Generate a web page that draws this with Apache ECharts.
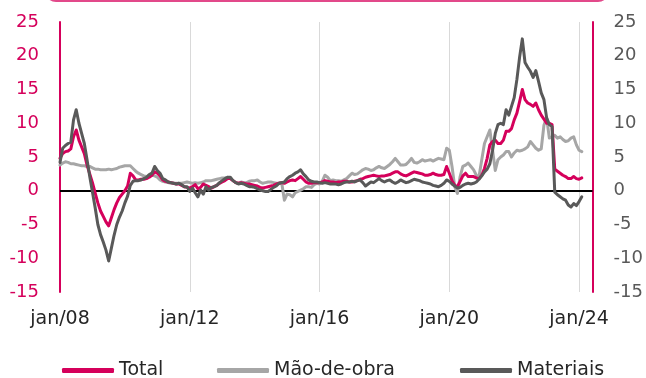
<!DOCTYPE html>
<html>
<head>
<meta charset="utf-8">
<script src="https://cdn.jsdelivr.net/npm/echarts@6/dist/echarts.min.js"></script>
<style>
  html, body { margin: 0; padding: 0; background: #ffffff; }
  #chart { width: 646px; height: 378px; }
</style>
</head>
<body>
<div id="chart"></div>
<script>
// Monthly axis: jan/08 through jun/24 (data runs to feb/24)
const startYear = 2008;
const monthCount = 198;
const monthNames = ['jan','fev','mar','abr','mai','jun','jul','ago','set','out','nov','dez'];
const categories = [];
for (let k = 0; k < monthCount; k++) {
  const y = startYear + Math.floor(k / 12);
  categories.push(monthNames[k % 12] + '/' + String(y % 100).padStart(2, '0'));
}

const yTicks = { min: -15, max: 25, step: 5 };

// % change over 12 months
const total = [
  4.8,5.5,5.8,5.9,6.2,8.0,9.0,7.5,6.5,5.5,
  3.8,2.5,1.2,-0.3,-1.8,-3.0,-3.8,-4.6,-5.2,-4.0,
  -2.8,-1.8,-1.0,-0.5,0.0,0.7,2.6,2.2,1.6,1.6,
  1.7,1.7,1.8,2.0,2.3,2.8,2.6,2.2,1.6,1.4,
  1.3,1.2,1.1,1.0,1.0,0.8,0.6,0.5,0.4,0.6,
  0.9,0.3,0.5,1.0,0.8,0.6,0.4,0.6,0.8,1.1,
  1.3,1.5,1.8,1.8,1.5,1.2,1.1,1.2,1.1,1.0,
  1.0,0.9,0.8,0.7,0.5,0.4,0.5,0.6,0.7,0.8,
  1.0,1.1,1.2,1.1,1.3,1.5,1.6,1.5,1.8,2.1,
  1.7,1.3,1.1,1.1,1.2,1.2,1.2,1.3,1.5,1.4,
  1.3,1.3,1.2,1.3,1.3,1.4,1.4,1.3,1.3,1.4,
  1.5,1.7,1.8,2.0,2.1,2.2,2.3,2.2,2.1,2.2,
  2.2,2.3,2.4,2.6,2.8,2.8,2.5,2.3,2.2,2.4,
  2.6,2.8,2.7,2.6,2.5,2.3,2.3,2.4,2.6,2.4,
  2.3,2.3,2.4,3.6,2.6,1.5,0.8,0.6,1.4,2.2,
  2.6,2.1,2.1,2.1,1.9,1.8,2.3,3.3,4.8,6.8,
  7.3,7.5,7.0,7.0,7.5,8.8,8.8,9.2,10.5,11.5,
  13.2,15.0,13.5,13.0,12.8,12.5,13.0,12.0,11.2,10.6,
  10.0,10.0,9.8,3.2,2.9,2.6,2.3,2.1,1.8,1.8,
  2.1,1.8,1.7,1.9
];

const maoDeObra = [
  3.8,4.1,4.3,4.2,4.0,4.0,3.9,3.8,3.7,3.7,
  3.6,3.6,3.4,3.2,3.2,3.1,3.1,3.1,3.2,3.1,
  3.2,3.3,3.5,3.6,3.7,3.7,3.7,3.3,2.9,2.6,
  2.4,2.2,2.1,2.2,2.3,2.2,2.0,1.6,1.4,1.3,
  1.2,1.1,1.1,1.1,1.1,1.1,1.2,1.3,1.2,1.1,
  1.2,1.1,1.2,1.3,1.5,1.5,1.5,1.6,1.7,1.8,
  1.9,1.9,2.0,1.8,1.5,1.2,1.1,1.3,1.2,1.2,
  1.4,1.5,1.5,1.6,1.3,1.1,1.2,1.3,1.3,1.2,
  1.1,1.1,1.2,-1.4,-0.5,-0.6,-0.9,-0.3,-0.1,0.1,
  0.3,0.6,0.6,0.5,0.9,1.1,1.0,1.4,2.3,2.0,
  1.5,1.6,1.5,1.5,1.4,1.6,1.8,2.2,2.6,2.4,
  2.5,2.8,3.1,3.3,3.2,3.0,3.1,3.4,3.6,3.4,
  3.3,3.6,3.9,4.3,4.8,4.3,3.8,3.8,3.9,4.3,
  4.8,4.2,4.1,4.3,4.6,4.4,4.5,4.6,4.4,4.6,
  4.8,4.7,4.6,6.3,6.0,3.6,0.6,-0.4,2.1,3.6,
  3.8,4.1,3.6,3.1,2.3,2.1,4.6,7.0,8.0,9.0,
  6.0,3.0,4.6,5.0,5.3,5.8,5.8,5.0,5.6,6.0,
  5.9,6.0,6.2,6.5,7.3,6.8,6.3,6.0,6.2,9.7,
  10.8,7.8,8.0,8.2,7.8,8.0,7.6,7.3,7.4,7.8,
  8.0,6.8,6.0,5.8
];

const materiais = [
  4.2,6.3,6.7,7.0,7.2,10.5,12.0,10.0,8.5,7.0,
  4.6,2.1,-0.2,-2.5,-5.0,-6.5,-7.6,-8.8,-10.4,-8.5,
  -6.6,-5.0,-3.9,-3.0,-1.8,-0.8,0.8,1.4,1.5,1.5,
  1.6,1.8,2.0,2.4,2.6,3.6,3.0,2.6,1.8,1.6,
  1.3,1.2,1.1,1.0,1.1,0.9,0.6,0.6,-0.1,0.4,
  -0.3,-0.9,0.1,-0.5,0.6,0.1,0.5,0.6,0.8,1.2,
  1.5,1.8,2.0,2.0,1.5,1.2,1.0,1.1,1.0,0.8,
  0.6,0.6,0.5,0.3,0.1,0.0,-0.1,-0.1,0.2,0.5,
  0.7,1.1,1.2,1.3,1.8,2.1,2.3,2.6,2.8,3.1,
  2.5,2.1,1.6,1.4,1.3,1.3,1.2,1.1,1.2,1.1,
  1.0,1.0,1.0,0.9,1.0,1.2,1.3,1.3,1.4,1.3,
  1.5,1.6,1.2,0.7,1.0,1.3,1.2,1.5,1.8,1.5,
  1.3,1.5,1.6,1.3,1.1,1.3,1.6,1.4,1.2,1.3,
  1.5,1.7,1.6,1.5,1.3,1.2,1.1,1.0,0.8,0.7,
  0.6,0.8,1.1,1.6,1.4,1.0,0.7,0.4,0.5,0.8,
  1.0,1.1,1.0,1.1,1.3,1.7,2.2,2.8,3.2,4.0,
  6.0,8.5,9.8,10.0,9.8,12.0,11.2,12.5,13.8,16.5,
  19.8,22.5,19.0,18.3,17.7,16.8,17.8,16.2,14.5,13.5,
  10.8,9.8,9.5,-0.2,-0.6,-0.9,-1.2,-1.4,-2.1,-2.4,
  -1.9,-2.2,-1.6,-0.9
];

const PINK = '#D5005B';
const LIGHT = '#A6A6A6';
const DARK = '#595959';
const FONT = 'DejaVu Sans';

const chart = echarts.init(document.getElementById('chart'), null, { renderer: 'canvas' });

function lineSeries(name, data, color, z) {
  return {
    name: name,
    type: 'line',
    data: data,
    showSymbol: false,
    symbol: 'none',
    z: z,
    lineStyle: { color: color, width: 3, join: 'round', cap: 'round' },
    itemStyle: { color: color },
    animation: false
  };
}

function legendAt(left, name) {
  return {
    left: left,
    top: 356,
    data: [name],
    icon: 'roundRect',
    itemWidth: 52,
    itemHeight: 5,
    itemGap: 0,
    textStyle: { fontFamily: FONT, fontSize: 19, color: '#262626' }
  };
}

const yCommon = {
  type: 'value',
  min: yTicks.min,
  max: yTicks.max,
  interval: yTicks.step,
  splitLine: { show: false },
  axisTick: { show: false },
  axisLine: { show: true, lineStyle: { color: PINK, width: 2 } }
};

const zeroSeries = lineSeries('Materiais', materiais, DARK, 4);

chart.setOption({
  backgroundColor: '#ffffff',
  animation: false,
  graphic: [{
    type: 'rect',
    shape: { x: 46, y: -30, width: 562, height: 31, r: 10 },
    style: { fill: 'none', stroke: '#E2498A', lineWidth: 2 },
    silent: true
  }],
  grid: { left: 60, right: 52, top: 22, bottom: 86 },
  legend: [
    legendAt(57, 'Total'),
    legendAt(212, 'Mão-de-obra'),
    legendAt(455, 'Materiais')
  ],
  xAxis: {
    type: 'category',
    data: categories,
    boundaryGap: false,
    axisLine: { show: false },
    axisTick: { show: false },
    axisLabel: {
      interval: function (index) { return index % 48 === 0; },
      fontFamily: FONT,
      fontSize: 19,
      color: '#262626',
      margin: 18
    },
    splitLine: {
      show: true,
      interval: function (index) { return index > 0 && index % 48 === 0; },
      lineStyle: { color: '#D9D9D9', width: 1 }
    }
  },
  yAxis: [
    Object.assign({}, yCommon, {
      position: 'left',
      axisLabel: { fontFamily: FONT, fontSize: 18, color: PINK, margin: 21 }
    }),
    Object.assign({}, yCommon, {
      position: 'right',
      axisLabel: { fontFamily: FONT, fontSize: 18, color: DARK, margin: 21 }
    })
  ],
  series: [
    lineSeries('Mão-de-obra', maoDeObra, LIGHT, 2),
    Object.assign(lineSeries('Total', total, PINK, 3), {
      markLine: {
        silent: true,
        symbol: 'none',
        label: { show: false },
        lineStyle: { color: '#000000', width: 2, type: 'solid' },
        data: [{ yAxis: 0 }],
        z: 1
      }
    }),
    zeroSeries
  ]
});
</script>
</body>
</html>
